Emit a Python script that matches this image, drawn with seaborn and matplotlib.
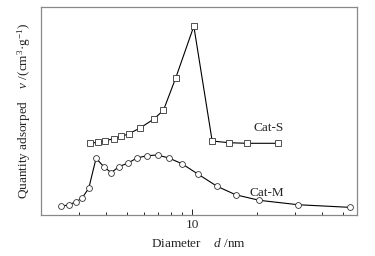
import matplotlib
matplotlib.use("Agg")
import matplotlib.pyplot as plt
import seaborn as sns
import pandas as pd
from matplotlib.ticker import LogLocator, FixedLocator, FixedFormatter, NullFormatter

# pore diameter (nm) and quantity adsorbed (arbitrary units, curves offset)
d_s = [3.36, 3.67, 3.98, 4.34, 4.71, 5.09, 5.75, 6.64, 7.38, 8.42, 10.2, 12.4, 14.8, 17.9, 25.1]
v_s = [71.7, 72.7, 74.3, 76.3, 78.7, 81.0, 87.0, 95.7, 104.7, 137.3, 188.7, 74.0, 72.3, 71.7, 71.7]

d_m = [2.49, 2.69, 2.90, 3.10, 3.33, 3.60, 3.91, 4.23, 4.59, 5.06, 5.57, 6.18, 6.93, 7.82,
       8.98, 10.7, 13.0, 15.9, 20.5, 31.0, 53.6]
v_m = [8.7, 10.3, 13.0, 17.0, 26.7, 56.7, 48.3, 42.3, 48.3, 52.0, 57.0, 59.3, 60.0, 57.0,
       51.3, 40.7, 29.0, 20.3, 14.7, 10.3, 7.7]

sns.set_style("white")
plt.rcParams['font.family'] = ['Liberation Serif', 'DejaVu Serif']
plt.rcParams['mathtext.fontset'] = 'custom'
plt.rcParams['mathtext.rm'] = 'Liberation Serif'
plt.rcParams['mathtext.it'] = 'Liberation Serif:italic'

df_s = pd.DataFrame({"d": d_s, "v": v_s})
df_m = pd.DataFrame({"d": d_m, "v": v_m})

fig = plt.figure(figsize=(3.75, 2.56), dpi=100)
ax = fig.add_axes([0.109, 0.160, 0.843, 0.813])

sns.lineplot(data=df_s, x="d", y="v", ax=ax, color="black", lw=0.8, marker="s",
             markersize=4.2, markerfacecolor="white", markeredgecolor="#333333",
             markeredgewidth=0.6)
sns.lineplot(data=df_m, x="d", y="v", ax=ax, color="black", lw=0.8, marker="o",
             markersize=4.2, markerfacecolor="white", markeredgecolor="#333333",
             markeredgewidth=0.6)

ax.set_xscale("log")
ax.set_xlim(2, 58)
ax.set_ylim(0, 208)

ax.xaxis.set_major_locator(FixedLocator([10]))
ax.xaxis.set_major_formatter(FixedFormatter(["10"]))
ax.xaxis.set_minor_locator(LogLocator(base=10, subs=range(2, 10)))
ax.xaxis.set_minor_formatter(NullFormatter())
ax.tick_params(axis="x", which="major", direction="in", length=4, width=0.7,
               labelsize=9.5, pad=3, bottom=True)
ax.tick_params(axis="x", which="minor", direction="in", length=2.5, width=0.7, bottom=True)
ax.set_yticks([])

for s in ax.spines.values():
    s.set_color("#888888")
    s.set_linewidth(0.9)

ax.text(22.6, 87, "Cat-S", fontsize=9.5, ha="center", va="center")
ax.text(22.3, 22, "Cat-M", fontsize=9.5, ha="center", va="center")

ax.set_xlabel(r"Diameter    $\mathit{d}$ /nm", fontsize=9.5, labelpad=4)
ax.set_ylabel(r"Quantity adsorped    $\mathit{v}$ /(cm$^{3}$·g$^{-1}$)", fontsize=9.5, labelpad=6)

fig.savefig("out.png", dpi=100)
